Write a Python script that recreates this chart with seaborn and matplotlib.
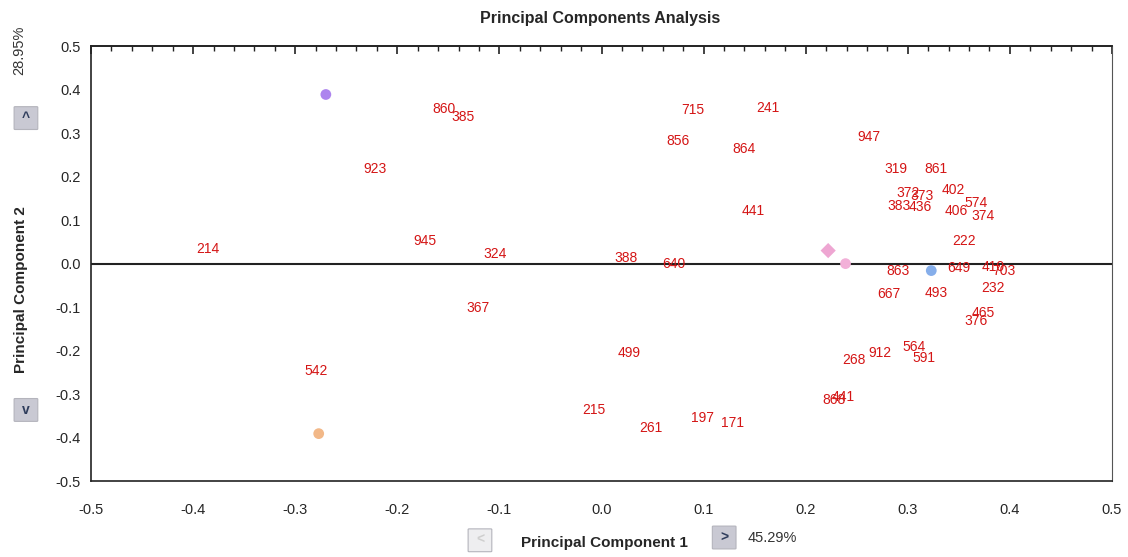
import matplotlib
matplotlib.use('Agg')
import matplotlib.pyplot as plt
import pandas as pd
import seaborn as sns
from matplotlib.patches import FancyBboxPatch
from matplotlib.ticker import MultipleLocator

sns.set_style('white')
plt.rcParams['font.family'] = ['Liberation Sans', 'DejaVu Sans']

# sample labels (red numbers)
sample_ids = ['214', '860', '385', '923', '945', '324', '367', '542', '715', '241',
              '856', '864', '947', '441', '388', '640', '499', '215', '261', '197',
              '171', '868', '441', '268', '912', '564', '591', '319', '861', '372',
              '373', '383', '436', '402', '406', '574', '374', '222', '863', '649',
              '667', '493', '410', '703', '232', '465', '376']
pc1 = [-0.386, -0.154, -0.136, -0.222, -0.173, -0.104, -0.121, -0.280, 0.089, 0.163,
       0.075, 0.140, 0.262, 0.149, 0.024, 0.071, 0.027, -0.007, 0.048, 0.099,
       0.128, 0.228, 0.237, 0.247, 0.273, 0.306, 0.316, 0.288, 0.328, 0.300,
       0.314, 0.291, 0.312, 0.345, 0.347, 0.367, 0.374, 0.355, 0.290, 0.350,
       0.281, 0.328, 0.384, 0.394, 0.383, 0.374, 0.367]
pc2 = [0.034, 0.356, 0.338, 0.218, 0.053, 0.021, -0.103, -0.246, 0.354, 0.359,
       0.283, 0.264, 0.292, 0.122, 0.014, 0.000, -0.205, -0.336, -0.379, -0.356,
       -0.366, -0.313, -0.306, -0.221, -0.205, -0.191, -0.216, 0.218, 0.218, 0.163,
       0.156, 0.133, 0.131, 0.170, 0.122, 0.140, 0.110, 0.051, -0.018, -0.011,
       -0.069, -0.067, -0.007, -0.018, -0.057, -0.113, -0.133]

# group markers
group_names = ['g1', 'g2', 'g3', 'g4', 'g5']
group_pc1 = [-0.270, -0.277, 0.222, 0.239, 0.323]
group_pc2 = [0.389, -0.391, 0.030, 0.000, -0.016]
group_colors = ['#ad84ee', '#f2b888', '#eea6d2', '#f2b0d8', '#86aeea']
group_shapes = ['o', 'o', 'D', 'o', 'o']

fig = plt.figure(figsize=(11.28, 5.57), dpi=100)
ax = fig.add_axes([0.0807, 0.1364, 0.9051, 0.7806])

groups = pd.DataFrame({'pc1': group_pc1, 'pc2': group_pc2, 'group': group_names})
sns.scatterplot(data=groups, x='pc1', y='pc2', hue='group', style='group',
                palette=dict(zip(group_names, group_colors)),
                markers=dict(zip(group_names, group_shapes)),
                s=60, linewidth=0, legend=False, ax=ax, zorder=3)

for sid, x, y in zip(sample_ids, pc1, pc2):
    ax.text(x, y, sid, color='#d41515', fontsize=10, ha='center', va='center', zorder=4)

ax.axhline(0, color='#222222', lw=1.5, zorder=2)

ax.set_xlim(-0.5, 0.5)
ax.set_ylim(-0.5, 0.5)
fmt = plt.FuncFormatter(lambda v, p: f'{v:.1f}'.replace('-0.0', '0.0'))
ax.xaxis.set_major_locator(MultipleLocator(0.1))
ax.yaxis.set_major_locator(MultipleLocator(0.1))
ax.xaxis.set_minor_locator(MultipleLocator(0.02))
ax.yaxis.set_minor_locator(MultipleLocator(0.02))
ax.xaxis.set_major_formatter(fmt)
ax.yaxis.set_major_formatter(fmt)
ax.tick_params(axis='both', which='major', direction='inout', length=8, width=1.2,
               labelsize=10.5, color='#222222', right=False, top=False)
ax.tick_params(axis='both', which='minor', direction='inout', length=4, width=1,
               color='#222222', right=False, top=False)
ax.tick_params(axis='x', which='major', pad=12)

# top axis: inward ticks only
top = ax.secondary_xaxis('top')
top.xaxis.set_major_locator(MultipleLocator(0.1))
top.xaxis.set_minor_locator(MultipleLocator(0.02))
top.tick_params(which='major', direction='in', length=6, width=1.2, color='#222222',
                labeltop=False)
top.tick_params(which='minor', direction='in', length=3.5, width=1, color='#222222')
top.spines['top'].set_color('#222222')
top.spines['top'].set_linewidth(1.2)

for side in ['top', 'bottom', 'left']:
    ax.spines[side].set_color('#222222')
    ax.spines[side].set_linewidth(1.2)
ax.spines['right'].set_color('#555555')
ax.spines['right'].set_linewidth(0.8)
ax.set_xlabel('')
ax.set_ylabel('')

fig.text(0.532, 0.967, 'Principal Components Analysis', ha='center', va='center',
         fontsize=11.5, fontweight='bold')
fig.text(0.019, 0.48, 'Principal Component 2', rotation=90, ha='center', va='center',
         fontsize=11, fontweight='bold')
fig.text(0.017, 0.91, '28.95%', rotation=90, ha='center', va='center', fontsize=10.5,
         color='#333333')
fig.text(0.536, 0.026, 'Principal Component 1', ha='center', va='center',
         fontsize=11, fontweight='bold')
fig.text(0.685, 0.035, '45.29%', ha='center', va='center', fontsize=10.5, color='#333333')


def button(cx, cy, glyph, fade=False):
    w, h = 0.019, 0.039
    box = FancyBboxPatch((cx - w / 2, cy - h / 2), w, h, boxstyle='round,pad=0.001',
                         transform=fig.transFigure, facecolor='#eeeef0' if fade else '#c9c9d3',
                         edgecolor='#b4b4bc', lw=0.8)
    fig.patches.append(box)
    fig.text(cx, cy, glyph, ha='center', va='center', fontsize=10, fontweight='bold',
             color='#cfcfcf' if fade else '#2f3d5c')


button(0.023, 0.788, '^')
button(0.023, 0.264, 'v')
button(0.4255, 0.03, '<', fade=True)
button(0.642, 0.035, '>')

fig.savefig('out.png', dpi=100)
